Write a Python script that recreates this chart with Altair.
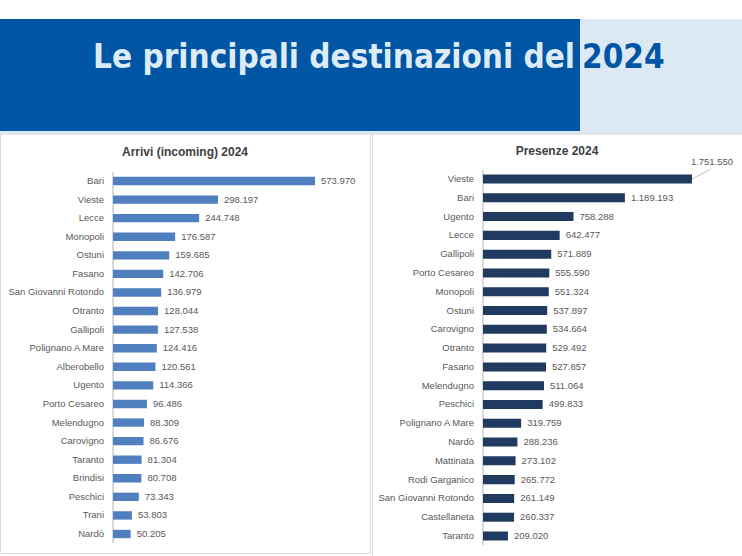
import altair as alt
import pandas as pd

# ---- data ----
arr_cities = ["Bari", "Vieste", "Lecce", "Monopoli", "Ostuni", "Fasano",
              "San Giovanni Rotondo", "Otranto", "Gallipoli", "Polignano A Mare",
              "Alberobello", "Ugento", "Porto Cesareo", "Melendugno", "Carovigno",
              "Taranto", "Brindisi", "Peschici", "Trani", "Nardò"]
arr_values = [573970, 298197, 244748, 176587, 159685, 142706, 136979, 128044,
              127538, 124416, 120561, 114366, 96486, 88309, 86676, 81304,
              80708, 73343, 53803, 50205]

pres_cities = ["Vieste", "Bari", "Ugento", "Lecce", "Gallipoli", "Porto Cesareo",
               "Monopoli", "Ostuni", "Carovigno", "Otranto", "Fasano", "Melendugno",
               "Peschici", "Polignano A Mare", "Nardò", "Mattinata", "Rodi Garganico",
               "San Giovanni Rotondo", "Castellaneta", "Taranto"]
pres_values = [1751550, 1189193, 758288, 642477, 571889, 555590, 551324, 537897,
               534664, 529492, 527857, 511064, 499833, 319759, 288236, 273102,
               265772, 261149, 260337, 209020]

title_main = "Le principali destinazioni del"
title_year = "2024"
left_title = "Arrivi (incoming) 2024"
right_title = "Presenze 2024"


def it_fmt(v):
    return f"{v:,}".replace(",", ".")


arr_df = pd.DataFrame({"city": arr_cities, "value": arr_values,
                       "label": [it_fmt(v) for v in arr_values]})
pres_df = pd.DataFrame({"city": pres_cities, "value": pres_values,
                        "label": [it_fmt(v) for v in pres_values]})
pres_main = pres_df.iloc[1:]
pres_top = pres_df.iloc[:1]

FONT = "Liberation Sans"
TITLE_FONT = "'DejaVu Sans Condensed', 'Liberation Sans Narrow', 'DejaVu Sans', sans-serif"
LABEL_COL = "#595959"
W, H = 742, 556

# ---- decoration ----
one = pd.DataFrame({"k": [0]})
bg = alt.Chart(one)
header_dark = bg.mark_rect(color="#0055A4").encode(
    x=alt.value(0), x2=alt.value(580), y=alt.value(19), y2=alt.value(131))
header_light = bg.mark_rect(color="#DDE8F5").encode(
    x=alt.value(580), x2=alt.value(742), y=alt.value(19), y2=alt.value(131))
strip = bg.mark_rect(color="#DDE8F5").encode(
    x=alt.value(0), x2=alt.value(742), y=alt.value(131), y2=alt.value(134))
left_card = bg.mark_rect(fill="white", stroke="#D9D9D9", strokeWidth=1).encode(
    x=alt.value(0.5), x2=alt.value(370.5), y=alt.value(134), y2=alt.value(553.5))
right_card = bg.mark_rect(fill="white", stroke="#D9D9D9", strokeWidth=1).encode(
    x=alt.value(372.5), x2=alt.value(745), y=alt.value(134), y2=alt.value(560))

t_main = bg.mark_text(text=title_main, font=TITLE_FONT, fontWeight="bold",
                      fontSize=33, color="#DDEBF7", align="right", baseline="alphabetic").encode(
    x=alt.value(575), y=alt.value(68))
t_year = bg.mark_text(text=title_year, font=TITLE_FONT, fontWeight="bold",
                      fontSize=33, color="#0055A4", align="left", baseline="alphabetic").encode(
    x=alt.value(582), y=alt.value(68))
t_left = bg.mark_text(text=left_title, font=FONT, fontWeight="bold", fontSize=12,
                      color="#404040", align="center", baseline="middle").encode(
    x=alt.value(185), y=alt.value(152))
t_right = bg.mark_text(text=right_title, font=FONT, fontWeight="bold", fontSize=12,
                       color="#404040", align="center", baseline="middle").encode(
    x=alt.value(557), y=alt.value(151))

deco = alt.layer(header_dark, header_light, strip, left_card, right_card,
                 t_main, t_year, t_left, t_right)

# ---- left chart ----
l_step = (534 - 181) / 19
l_y = alt.Y("city:N", sort=arr_cities, axis=None,
            scale=alt.Scale(domain=arr_cities, range=[181 - l_step / 2, 534 + l_step / 2],
                            paddingInner=0.55, paddingOuter=0.275))
l_x = alt.X("value:Q", axis=None,
            scale=alt.Scale(domain=[0, 573970], range=[113, 315], nice=False, zero=True))
lbase = alt.Chart(arr_df)
l_axis = lbase.mark_rule(color="#D9D9D9").encode(
    x=alt.value(113), y=alt.value(172), y2=alt.value(543))
l_bars = lbase.mark_bar(color="#4F7FBF").encode(x=l_x, y=l_y)
l_vals = lbase.mark_text(align="left", dx=6, font=FONT, fontSize=9.5, color=LABEL_COL,
                         baseline="middle").encode(x=l_x, y=l_y, text="label:N")
l_names = lbase.mark_text(align="right", font=FONT, fontSize=9.5, color=LABEL_COL,
                          baseline="middle").encode(x=alt.value(104), y=l_y, text="city:N")
left = alt.layer(l_axis, l_bars, l_vals, l_names)

# ---- right chart ----
r_step = (536 - 179) / 19
r_y = alt.Y("city:N", sort=pres_cities, axis=None,
            scale=alt.Scale(domain=pres_cities, range=[179 - r_step / 2, 536 + r_step / 2],
                            paddingInner=0.52, paddingOuter=0.26))
r_x = alt.X("value:Q", axis=None,
            scale=alt.Scale(domain=[0, 1751550], range=[483, 692], nice=False, zero=True))
rbase = alt.Chart(pres_df)
r_axis = rbase.mark_rule(color="#D9D9D9").encode(
    x=alt.value(483), y=alt.value(170), y2=alt.value(545))
r_bars = rbase.mark_bar(color="#203A60").encode(x=r_x, y=r_y)
r_vals = alt.Chart(pres_main).mark_text(align="left", dx=6, font=FONT, fontSize=9.5,
                                        color=LABEL_COL, baseline="middle").encode(
    x=r_x, y=r_y, text="label:N")
r_top_val = alt.Chart(pres_top).mark_text(align="center", dx=20, dy=-17, font=FONT,
                                          fontSize=9.5, color=LABEL_COL,
                                          baseline="middle").encode(x=r_x, y=r_y, text="label:N")
r_leader = alt.Chart(pres_top).mark_rule(color="#BFBFBF", strokeWidth=1,
                                         x2Offset=19, y2Offset=-10).encode(
    x=r_x, y=r_y, x2="value:Q", y2="city:N")
r_names = rbase.mark_text(align="right", font=FONT, fontSize=9.5, color=LABEL_COL,
                          baseline="middle").encode(x=alt.value(474), y=r_y, text="city:N")
right = alt.layer(r_axis, r_bars, r_vals, r_top_val, r_leader, r_names)

chart = alt.layer(deco, left, right).resolve_scale(x="independent", y="independent").properties(
    width=W, height=H, padding=0, autosize=alt.AutoSizeParams(type="none"),
    background="white"
).configure_view(stroke=None)

chart.save("out.html", embed_options={"renderer": "svg", "actions": False})
